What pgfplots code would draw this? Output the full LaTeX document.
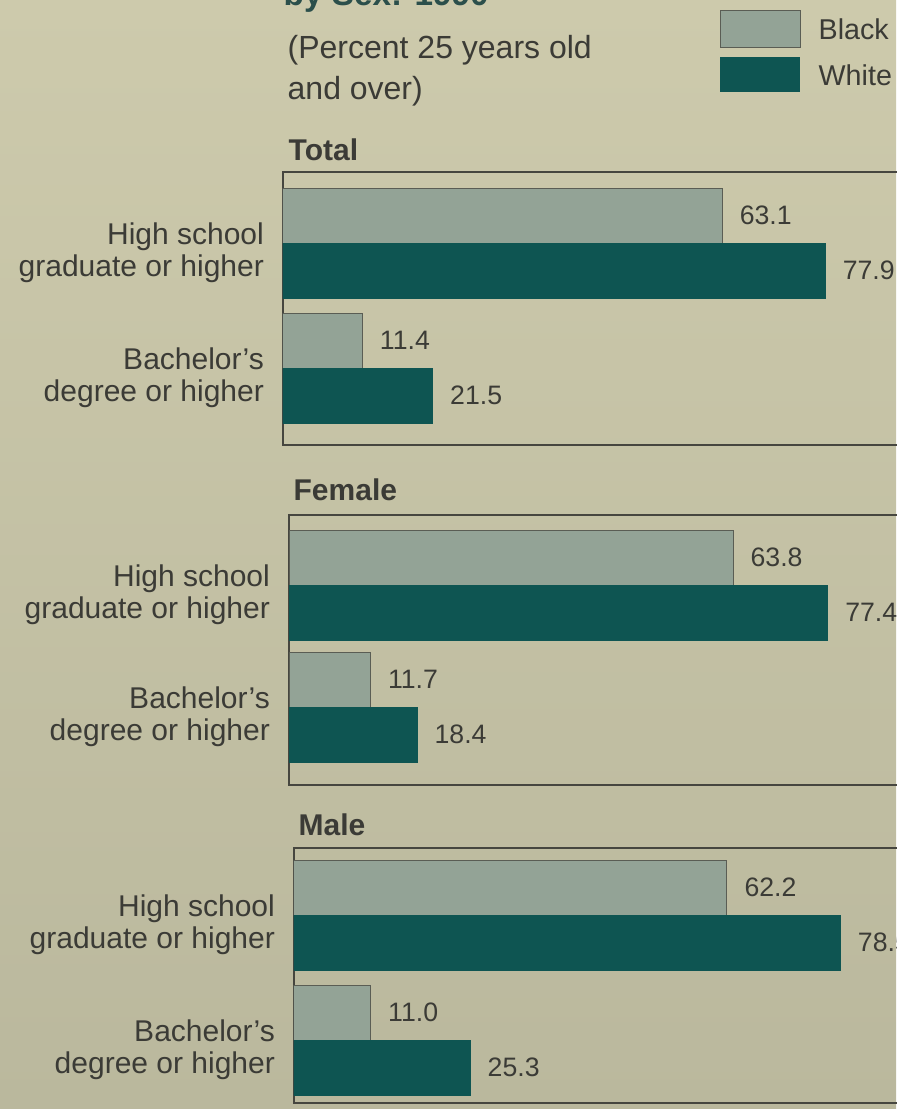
\documentclass[border=0pt]{standalone}
\usepackage{fontspec}
\setmainfont{Liberation Sans}
\usepackage{pgfplots}
\pgfplotsset{compat=1.18}
\definecolor{papertop}{HTML}{CDCAAC}
\definecolor{paperbot}{HTML}{BAB89D}
\definecolor{bk}{HTML}{93A396}
\definecolor{bkline}{HTML}{5A5D54}
\definecolor{wh}{HTML}{0E5552}
\definecolor{txt}{HTML}{3B3B36}
\definecolor{frame}{HTML}{46463F}
\definecolor{titc}{HTML}{2B4F4B}
\pgfplotsset{
  panel/.style={
    xbar, scale only axis, width=208.8pt,
    xmin=0, xmax=100,
    ytick={0,1},
    yticklabels={{Bachelor's\\degree or higher},{High school\\graduate or higher}},
    yticklabel style={align=right, font=\fontsize{9}{9.6}\selectfont,
                      text=txt, yshift=-3pt, xshift=-2.2pt},
    xtick=\empty, major tick length=0pt,
    axis line style={draw=frame, line width=0.45pt},
    bar width=16.5pt,
    point meta=x,
    nodes near coords={\pgfmathprintnumber[fixed,fixed zerofill,precision=1,
                       assume math mode=true]{\pgfplotspointmeta}},
    nodes near coords style={font=\fontsize{8}{9.6}\selectfont, text=txt,
                             xshift=1.8pt},
  },
  blk/.style={fill=bk, draw=bkline, line width=0.3pt, bar shift=8.25pt},
  wht/.style={fill=wh, draw=wh, line width=0.3pt, bar shift=-8.25pt},
}
\begin{document}
\begin{tikzpicture}
\fill[top color=papertop, bottom color=paperbot] (0,0) rectangle (268.8pt,-332.7pt);

% cut-off title at the top edge
\node[anchor=base west, inner sep=0, text=titc,
      font=\fontsize{10}{12}\selectfont\bfseries] at (84.9pt,-1.6pt) {by Sex: 1990};

\node[anchor=base west, inner sep=0, text=txt,
      font=\fontsize{9.6}{12.3}\selectfont] at (86.1pt,-17.4pt)
      {(Percent 25 years old};
\node[anchor=base west, inner sep=0, text=txt,
      font=\fontsize{9.6}{12.3}\selectfont] at (86.1pt,-29.7pt)
      {and over)};

% legend
\fill[bk, draw=bkline, line width=0.3pt] (216pt,-3pt) rectangle (240pt,-14.1pt);
\fill[wh] (216pt,-17.1pt) rectangle (240pt,-27.6pt);
\node[anchor=base west, inner sep=0, text=txt, font=\fontsize{8.6}{10}\selectfont]
  at (245.4pt,-11.7pt) {Black};
\node[anchor=base west, inner sep=0, text=txt, font=\fontsize{8.6}{10}\selectfont]
  at (245.4pt,-25.5pt) {White};

% panel titles
\node[anchor=base west, inner sep=0, text=txt, font=\fontsize{9}{11}\selectfont\bfseries]
  at (86.4pt,-48pt) {Total};
\node[anchor=base west, inner sep=0, text=txt, font=\fontsize{9}{11}\selectfont\bfseries]
  at (87.9pt,-150pt) {Female};
\node[anchor=base west, inner sep=0, text=txt, font=\fontsize{9}{11}\selectfont\bfseries]
  at (89.4pt,-250.5pt) {Male};

% Total
\begin{axis}[panel, at={(84.9pt,-51.6pt)}, anchor=north west,
  height=81.9pt, ymin=-0.616, ymax=1.568]
\addplot[blk] coordinates {(63.1,1) (11.4,0)};
\addplot[wht] coordinates {(77.9,1) (21.5,0)};
\end{axis}

% Female
\begin{axis}[panel, at={(86.7pt,-154.5pt)}, anchor=north west,
  height=81pt, ymin=-0.639, ymax=1.574]
\addplot[blk] coordinates {(63.8,1) (11.7,0)};
\addplot[wht] coordinates {(77.4,1) (18.4,0)};
\end{axis}

% Male
\begin{axis}[panel, at={(88.2pt,-254.4pt)}, anchor=north west,
  height=76.5pt, ymin=-0.504, ymax=1.536]
\addplot[blk] coordinates {(62.2,1) (11.0,0)};
\addplot[wht] coordinates {(78.5,1) (25.3,0)};
\end{axis}

\pgfresetboundingbox
\path[use as bounding box] (0,0) rectangle (268.8pt,-332.7pt);
\end{tikzpicture}
\end{document}
